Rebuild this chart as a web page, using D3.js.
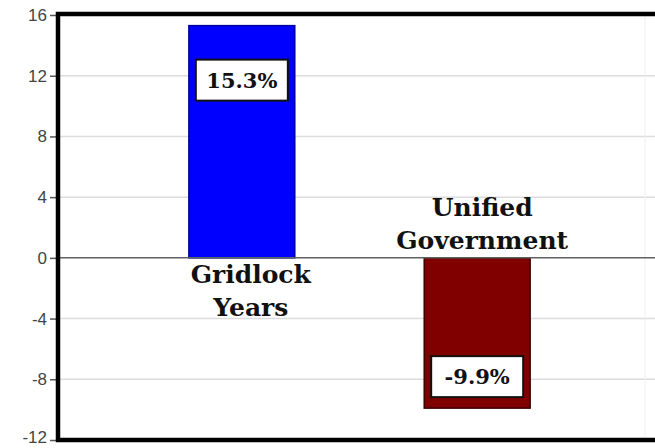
<!DOCTYPE html>
<html lang="en">
<head>
    <meta charset="UTF-8">
    <title>Gridlock vs Unified Government</title>
    <script src="https://d3js.org/d3.v7.min.js"></script>
    <style>
        body { margin: 0; background: #fff; }
        svg { display: block; }
    </style>
</head>
<body>
    <div id="chart"></div>
    <script>
        const categories = ["Gridlock Years", "Unified Government"];
        const values = [15.3, -9.9];
        const valueLabels = ["15.3%", "-9.9%"];
        const barColors = ["#0000ff", "#800000"];
        const barStrokes = ["#0000a0", "#3a0000"];
        const yTicks = [-12, -8, -4, 0, 4, 8, 12, 16];

        const width = 655;
        const height = 448;

        const svg = d3.select("#chart")
            .append("svg")
            .attr("width", width)
            .attr("height", height);

        const y = d3.scaleLinear()
            .domain([-12, 16])
            .range([440, 15]);

        const x = d3.scaleBand()
            .domain(categories)
            .range([58, 661])
            .paddingInner(0.55)
            .paddingOuter(0.556);

        // gridlines
        svg.append("g")
            .selectAll("line")
            .data(yTicks.filter(d => d !== 0 && d !== 16 && d !== -12))
            .join("line")
            .attr("x1", 58)
            .attr("x2", width)
            .attr("y1", d => y(d))
            .attr("y2", d => y(d))
            .attr("stroke", "#dcdcdc")
            .attr("stroke-width", 1.5);

        // faint right edge
        svg.append("line")
            .attr("x1", 645).attr("x2", 645)
            .attr("y1", y(16)).attr("y2", y(-12))
            .attr("stroke", "#f0f0f0");

        // bars
        svg.append("g")
            .selectAll("rect")
            .data(values)
            .join("rect")
            .attr("x", (d, i) => x(categories[i]))
            .attr("width", x.bandwidth())
            .attr("y", d => y(Math.max(0, d)))
            .attr("height", d => Math.abs(y(d) - y(0)))
            .attr("fill", (d, i) => barColors[i])
            .attr("stroke", (d, i) => barStrokes[i])
            .attr("stroke-width", 1.5);

        // zero line
        svg.append("line")
            .attr("x1", 58)
            .attr("x2", width)
            .attr("y1", y(0))
            .attr("y2", y(0))
            .attr("stroke", "#606060")
            .attr("stroke-width", 1.5);

        // axis
        const axis = svg.append("g")
            .attr("transform", "translate(56,0)")
            .call(d3.axisLeft(y).tickValues(yTicks).tickSize(6).tickPadding(3)
                .tickFormat(d => String(d)));
        axis.select(".domain").remove();
        axis.selectAll("line").attr("stroke", "#555").attr("stroke-width", 1.5);
        axis.selectAll("text")
            .attr("fill", "#444")
            .style("font", "17px 'Liberation Sans', Arial, sans-serif");
        // keep the bottom label inside the window
        axis.selectAll("text").filter(d => d === -12).attr("dy", "0.12em");

        // frame
        svg.append("path")
            .attr("d", `M${width + 5},${y(16) - 1}H58V${y(-12)}H${width + 5}`)
            .attr("fill", "none")
            .attr("stroke", "#000")
            .attr("stroke-width", 4.5);

        // value boxes
        const boxW = 92, boxH = 41;
        const boxY = [y(values[0]) + 34, y(values[1]) - 11 - boxH];
        const boxes = svg.append("g")
            .selectAll("g")
            .data(values)
            .join("g")
            .attr("transform", (d, i) => `translate(${x(categories[i]) + x.bandwidth() / 2},${boxY[i]})`);
        boxes.append("rect")
            .attr("x", -boxW / 2)
            .attr("width", boxW)
            .attr("height", boxH)
            .attr("fill", "#fff")
            .attr("stroke", "#111")
            .attr("stroke-width", 2);
        boxes.append("text")
            .attr("y", boxH / 2 + 7.5)
            .attr("text-anchor", "middle")
            .style("font", "bold 21px 'DejaVu Serif', Georgia, serif")
            .attr("fill", "#111")
            .text((d, i) => valueLabels[i]);

        // category labels
        const labelFont = "bold 25px 'DejaVu Serif', Georgia, serif";
        const gx = x(categories[0]) + x.bandwidth() / 2 + 9;
        const gridlock = svg.append("text")
            .attr("text-anchor", "middle")
            .style("font", labelFont)
            .attr("fill", "#111");
        gridlock.append("tspan").attr("x", gx).attr("y", y(0) + 25).text("Gridlock");
        gridlock.append("tspan").attr("x", gx).attr("y", y(0) + 58).text("Years");

        const ux = x(categories[1]) + x.bandwidth() / 2 + 5;
        const unified = svg.append("text")
            .attr("text-anchor", "middle")
            .style("font", labelFont)
            .attr("fill", "#111");
        unified.append("tspan").attr("x", ux).attr("y", y(0) - 42).text("Unified");
        unified.append("tspan").attr("x", ux).attr("y", y(0) - 9).text("Government");
    </script>
</body>
</html>
